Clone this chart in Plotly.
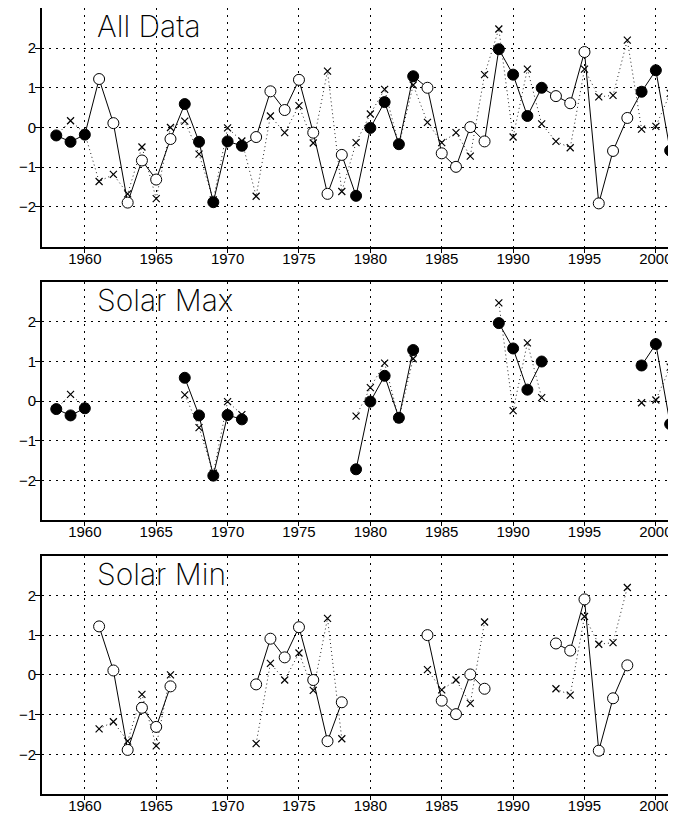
import plotly.graph_objects as go

years = list(range(1958, 2002))

# circle series (solid line)
circle_vals = [-0.20, -0.36, -0.18, 1.22, 0.11, -1.89, -0.83, -1.31, -0.29, 0.59,
               -0.36, -1.88, -0.35, -0.46, -0.24, 0.91, 0.44, 1.20, -0.13, -1.67,
               -0.69, -1.72, -0.01, 0.64, -0.42, 1.29, 1.00, -0.65, -0.99, 0.01,
               -0.35, 1.97, 1.33, 0.29, 1.00, 0.79, 0.61, 1.90, -1.91, -0.59,
               0.24, 0.90, 1.44, -0.58]

# cross series (dotted line)
cross_vals = [-0.20, 0.17, -0.15, -1.36, -1.18, -1.67, -0.49, -1.79, 0.00, 0.16,
              -0.67, -1.82, -0.01, -0.34, -1.73, 0.29, -0.13, 0.55, -0.39, 1.42,
              -1.61, -0.38, 0.34, 0.96, -0.45, 1.07, 0.13, -0.38, -0.13, -0.72,
              1.33, 2.48, -0.24, 1.47, 0.09, -0.35, -0.51, 1.47, 0.77, 0.81,
              2.20, -0.04, 0.03, 0.86]

# solar phase per year
phase = ["max"] * 3 + ["min"] * 6 + ["max"] * 5 + ["min"] * 7 + ["max"] * 5 + \
        ["min"] * 5 + ["max"] * 4 + ["min"] * 6 + ["max"] * 3

panel_titles = ["All Data", "Solar Max", "Solar Min"]
x_ticks = [1960, 1965, 1970, 1975, 1980, 1985, 1990, 1995, 2000]
y_ticks = [-2, -1, 0, 1, 2]

# page offset of the figure (default body margin) is 8px
OFF = 8
W, H = 676 - OFF, 818 - OFF
# pixel layout of panels on the page (top, bottom)
panel_px = [(8.3, 246.7), (282.3, 520.0), (555.7, 794.0)]
left_px = 42 - OFF

fig = go.Figure()

def masked(vals, keep):
    return [v if k else None for v, k in zip(vals, keep)]

tick_font = dict(family="Liberation Sans, Arial", size=15, color="black")

for i, (title, (ptop, pbot)) in enumerate(zip(panel_titles, panel_px)):
    n = i + 1
    xa = "x" if n == 1 else f"x{n}"
    ya = "y" if n == 1 else f"y{n}"
    if i == 0:
        keep = [True] * len(years)
    elif i == 1:
        keep = [p == "max" for p in phase]
    else:
        keep = [p == "min" for p in phase]

    cv = masked(cross_vals, keep)
    av = masked(circle_vals, keep)
    fills = ["black" if p == "max" else "white" for p in phase]

    fig.add_trace(go.Scatter(
        x=years, y=cv, xaxis=xa, yaxis=ya, mode="lines+markers",
        connectgaps=False, cliponaxis=False,
        line=dict(color="#222222", width=1, dash="1px,3px"),
        marker=dict(symbol="x-thin", size=7, line=dict(color="black", width=1.2)),
        showlegend=False, hoverinfo="skip"))
    fig.add_trace(go.Scatter(
        x=years, y=av, xaxis=xa, yaxis=ya, mode="lines+markers",
        connectgaps=False, cliponaxis=False,
        line=dict(color="black", width=1),
        marker=dict(symbol="circle", size=11, color=fills,
                    line=dict(color="black", width=1)),
        showlegend=False, hoverinfo="skip"))

    dom_y = [1 - (pbot - OFF) / H, min(1.0, 1 - (ptop - OFF) / H)]
    xkey = "xaxis" if n == 1 else f"xaxis{n}"
    ykey = "yaxis" if n == 1 else f"yaxis{n}"
    fig.update_layout(**{
        xkey: dict(domain=[0, 1.0], range=[1957, 2001.41], automargin=False,
                   anchor=ya, tickvals=x_ticks, ticks="outside", ticklen=4,
                   tickwidth=1, tickcolor="black", ticklabelstandoff=-7,
                   showline=True, linecolor="black", linewidth=2, mirror=True,
                   showgrid=True, gridcolor="black", gridwidth=1, griddash="2px,5px",
                   zeroline=False, tickfont=tick_font),
        ykey: dict(domain=dom_y, range=[-3, 3], anchor=xa, automargin=False,
                   tickvals=y_ticks, ticks="outside", ticklen=5, tickwidth=1,
                   tickcolor="black", ticklabelstandoff=-4,
                   showline=True, linecolor="black", linewidth=2, mirror=False,
                   showgrid=True, gridcolor="black", gridwidth=1, griddash="2px,5px",
                   zeroline=False, tickfont=tick_font),
    })
    fig.add_annotation(
        text=title, xref="paper", yref="paper",
        x=(95 - 42) / (676 - 42), y=1 - (ptop + 18 - OFF) / H,
        xanchor="left", yanchor="middle",
        showarrow=False,
        font=dict(family="Inter", size=30, color="black", weight=200))

fig.update_layout(
    width=W, height=H,
    margin=dict(l=left_px, r=0, t=0, b=0, autoexpand=False),
    paper_bgcolor="white", plot_bgcolor="white",
)

fig.write_html("out.html")
